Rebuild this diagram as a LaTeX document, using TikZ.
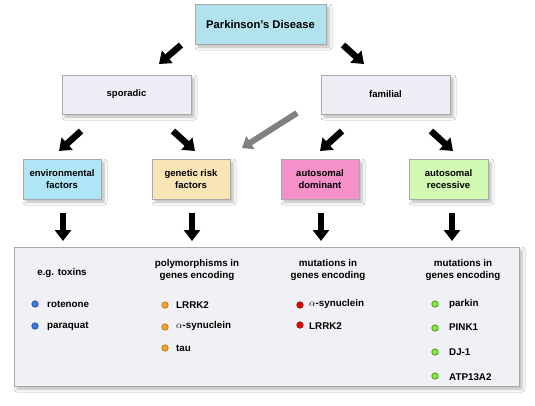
\documentclass[tikz,border=0pt]{standalone}
\usepackage{fontspec}
\setmainfont{Liberation Sans}
\usetikzlibrary{arrows.meta,shadows.blur}
\definecolor{titlec}{HTML}{B2E2EE}
\definecolor{greyc}{HTML}{EEEEF6}
\definecolor{envc}{HTML}{AEE6F8}
\definecolor{genc}{HTML}{F8E4B4}
\definecolor{domc}{HTML}{F590C8}
\definecolor{recc}{HTML}{D2FAB2}
\definecolor{botc}{HTML}{F1F1F5}
\definecolor{bordc}{HTML}{A8A8A8}
\definecolor{bluec}{HTML}{3A78E6}
\definecolor{orangec}{HTML}{F2A428}
\definecolor{redc}{HTML}{E60A0A}
\definecolor{greenc}{HTML}{86E22A}
\definecolor{arrowgray}{HTML}{808080}
\begin{document}
\begin{tikzpicture}[x=1pt,y=-1pt,
  box/.style={draw=bordc, line width=1pt, align=center,
    font=\bfseries\fontsize{9.5}{12}\selectfont, inner sep=0pt,
    blur shadow={shadow xshift=3pt, shadow yshift=-3pt, shadow blur radius=3pt, shadow opacity=28}},
  lbl/.style={align=center, font=\bfseries\fontsize{9.8}{11.5}\selectfont, inner sep=0pt},
  item/.style={anchor=west, font=\bfseries\fontsize{9.8}{11.5}\selectfont, inner sep=0pt},
  dot/.style={circle, inner sep=0pt, minimum size=6.5pt, line width=0.6pt},
  bigarrow/.style={line width=6.5pt, -{Triangle[width=16pt,length=11pt]}, black},
  grayarrow/.style={line width=6pt, -{Triangle[width=15pt,length=10pt]}, arrowgray}]
\useasboundingbox[fill=white] (0,0) rectangle (535,405);
% top
\node[box, fill=titlec, minimum width=131pt, minimum height=40pt, font=\bfseries\fontsize{11.2}{13}\selectfont] (pd) at (260.5,24) {Parkinson's Disease};
\node[box, fill=greyc, minimum width=129pt, minimum height=39pt] (spor) at (126.5,94.5) {sporadic};
\node[box, fill=greyc, minimum width=129pt, minimum height=39pt] (fam) at (385.5,94.5) {familial};
% second row
\node[box, fill=envc, minimum width=78pt, minimum height=40pt] (env) at (62,179) {environmental\\factors};
\node[box, fill=genc, minimum width=78pt, minimum height=40pt] (gen) at (191,179) {genetic risk\\factors};
\node[box, fill=domc, minimum width=78pt, minimum height=40pt] (dom) at (320,179) {autosomal\\dominant};
\node[box, fill=recc, minimum width=79pt, minimum height=40pt] (rec) at (448.5,179) {autosomal\\recessive};
% bottom box
\node[box, fill=botc, minimum width=505pt, minimum height=139pt] (bot) at (266.5,316.5) {};
% arrows coordinates
\coordinate (a1s) at (181,45); \coordinate (a1e) at (159,64);
\coordinate (a2s) at (343,45); \coordinate (a2e) at (364,64);
\coordinate (b1s) at (81,131); \coordinate (b1e) at (59,151);
\coordinate (b2s) at (173,131); \coordinate (b2e) at (195,151);
\coordinate (b3s) at (297,113); \coordinate (b3e) at (242,148);
\coordinate (b4s) at (342,131); \coordinate (b4e) at (320,151);
\coordinate (b5s) at (431,131); \coordinate (b5e) at (453,151);
\draw[bigarrow] (a1s) -- (a1e);
\draw[bigarrow] (a2s) -- (a2e);
\draw[bigarrow] (b1s) -- (b1e);
\draw[bigarrow] (b2s) -- (b2e);
\draw[grayarrow] (b3s) -- (b3e);
\draw[bigarrow] (b4s) -- (b4e);
\draw[bigarrow] (b5s) -- (b5e);
\foreach \x/\n in {63/c1,192/c2,321/c3,452/c4}{
  \coordinate (\n s) at (\x,213);
  \coordinate (\n e) at (\x,241);
  \draw[bigarrow] (\n s) -- (\n e);
}
% column headings
\node[lbl] (h1) at (62,273) {e.g. toxins};
\node[lbl] (h2) at (197,270) {polymorphisms in\\genes encoding};
\node[lbl] (h3) at (328,270) {mutations in\\genes encoding};
\node[lbl] (h4) at (463,270) {mutations in\\genes encoding};
% items
\node[dot, fill=bluec, draw=bluec!60!black] (d11) at (35,304) {};
\node[item] (t11) at (47,304) {rotenone};
\node[dot, fill=bluec, draw=bluec!60!black] (d12) at (35,326) {};
\node[item] (t12) at (47,326) {paraquat};
\node[dot, fill=orangec, draw=orangec!70!black] (d21) at (165,305) {};
\node[item] (t21) at (176,305) {LRRK2};
\node[dot, fill=orangec, draw=orangec!70!black] (d22) at (165,327) {};
\node[item] (t22) at (176,326) {$\alpha$-synuclein};
\node[dot, fill=orangec, draw=orangec!70!black] (d23) at (165,348) {};
\node[item] (t23) at (176,348) {tau};
\node[dot, fill=redc, draw=redc!60!black] (d31) at (300,305) {};
\node[item] (t31) at (309,304) {$\alpha$-synuclein};
\node[dot, fill=redc, draw=redc!60!black] (d32) at (300,325) {};
\node[item] (t32) at (309,326) {LRRK2};
\node[dot, fill=greenc, draw=greenc!60!black] (d41) at (435,304) {};
\node[item] (t41) at (449,304) {parkin};
\node[dot, fill=greenc, draw=greenc!60!black] (d42) at (435,328) {};
\node[item] (t42) at (449,327) {PINK1};
\node[dot, fill=greenc, draw=greenc!60!black] (d43) at (435,352) {};
\node[item] (t43) at (449,352) {DJ-1};
\node[dot, fill=greenc, draw=greenc!60!black] (d44) at (435,376) {};
\node[item] (t44) at (449,377) {ATP13A2};
\end{tikzpicture}
\end{document}
